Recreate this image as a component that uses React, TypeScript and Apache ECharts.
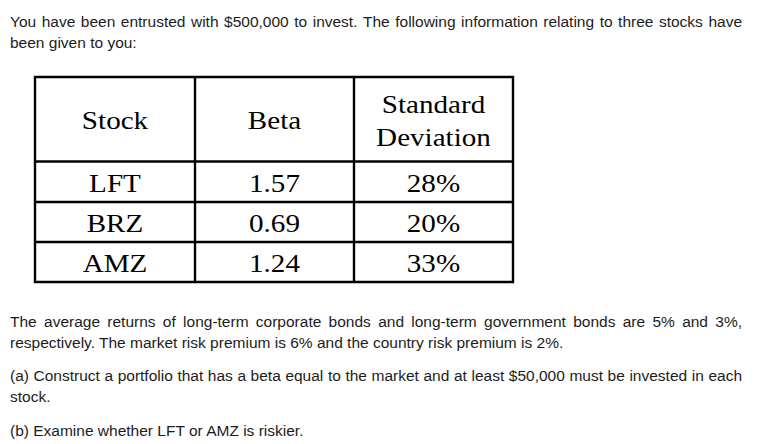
import React, { useEffect, useRef } from "react";
import * as echarts from "echarts";

const introLines = [
  "You have been entrusted with $500,000 to invest. The following information relating to three stocks have",
  "been given to you:",
];
const headers = ["Stock", "Beta", "Standard\nDeviation"];
const stocks = ["LFT", "BRZ", "AMZ"];
const betas = ["1.57", "0.69", "1.24"];
const stdDevs = ["28%", "20%", "33%"];
const para2Lines = [
  "The average returns of long-term corporate bonds and long-term government bonds are 5% and 3%,",
  "respectively. The market risk premium is 6% and the country risk premium is 2%.",
];
const partALines = [
  "(a) Construct a portfolio that has a beta equal to the market and at least $50,000 must be invested in each",
  "stock.",
];
const partBLines = ["(b) Examine whether LFT or AMZ is riskier."];

const SANS = "'Liberation Sans', Arial, sans-serif";
const SERIF = "'Liberation Serif', 'Times New Roman', serif";
const TEXT_COLOR = "#1c1c1c";
const FS = 15.5;

function lineElements(ctx: CanvasRenderingContext2D, line: string, y: number, justify: boolean, left: number, right: number) {
  const style = { fill: TEXT_COLOR, font: `${FS}px ${SANS}`, textVerticalAlign: "middle", textAlign: "left" };
  if (!justify) {
    return [{ type: "text", x: left, y, style: { ...style, text: line } }];
  }
  const words = line.split(" ");
  const widths = words.map((w) => ctx.measureText(w).width);
  const total = widths.reduce((a, b) => a + b, 0);
  const gap = (right - left - total) / (words.length - 1);
  const els: any[] = [];
  let x = left;
  words.forEach((w, i) => {
    els.push({ type: "text", x, y, style: { ...style, text: w } });
    x += widths[i] + gap;
  });
  return els;
}

export default function App() {
  const ref = useRef<HTMLDivElement>(null);
  useEffect(() => {
    if (!ref.current) return;
    const chart = echarts.init(ref.current, null, { renderer: "svg" });
    const canvas = document.createElement("canvas");
    const ctx = canvas.getContext("2d")!;
    ctx.font = `${FS}px ${SANS}`;

    const L = 10, R = 742;
    const els: any[] = [];
    const para = (lines: string[], ys: number[]) => {
      lines.forEach((ln, i) => {
        els.push(...lineElements(ctx, ln, ys[i], i < lines.length - 1, L, R));
      });
    };
    para(introLines, [21, 42]);
    para(para2Lines, [321, 342]);
    para(partALines, [375, 396]);
    para(partBLines, [430]);

    // table
    const tx = 35, ty = 77, tw = 478, th = 205;
    const colX = [tx, 195, 354, tx + tw];
    const rowY = [ty, 161.5, 202, 242, ty + th];
    const lineStyle = { stroke: "#000", lineWidth: 2.4 };
    els.push({ type: "rect", shape: { x: tx, y: ty, width: tw, height: th }, style: { fill: "none", ...lineStyle } });
    [colX[1], colX[2]].forEach((x) =>
      els.push({ type: "line", shape: { x1: x, y1: ty, x2: x, y2: ty + th }, style: lineStyle })
    );
    [rowY[1], rowY[2], rowY[3]].forEach((y) =>
      els.push({ type: "line", shape: { x1: tx, y1: y, x2: tx + tw, y2: y }, style: lineStyle })
    );
    const cellText = (s: string, col: number, row: number) => {
      const cx = (colX[col] + colX[col + 1]) / 2;
      const cy = (rowY[row] + rowY[row + 1]) / 2 + 1;
      return {
        type: "text",
        x: cx,
        y: cy,
        scaleX: 1.12,
        style: {
          text: s,
          fill: "#000",
          font: `26px ${SERIF}`,
          textAlign: "center",
          textVerticalAlign: "middle",
          lineHeight: 33,
        },
      };
    };
    headers.forEach((h, c) => els.push(cellText(h, c, 0)));
    stocks.forEach((s, r) => {
      els.push(cellText(s, 0, r + 1));
      els.push(cellText(betas[r], 1, r + 1));
      els.push(cellText(stdDevs[r], 2, r + 1));
    });

    chart.setOption({
      animation: false,
      backgroundColor: "#fff",
      graphic: { elements: els },
    });
    return () => chart.dispose();
  }, []);
  return <div ref={ref} style={{ width: 760, height: 444, position: "absolute", left: 0, top: 0 }} />;
}
